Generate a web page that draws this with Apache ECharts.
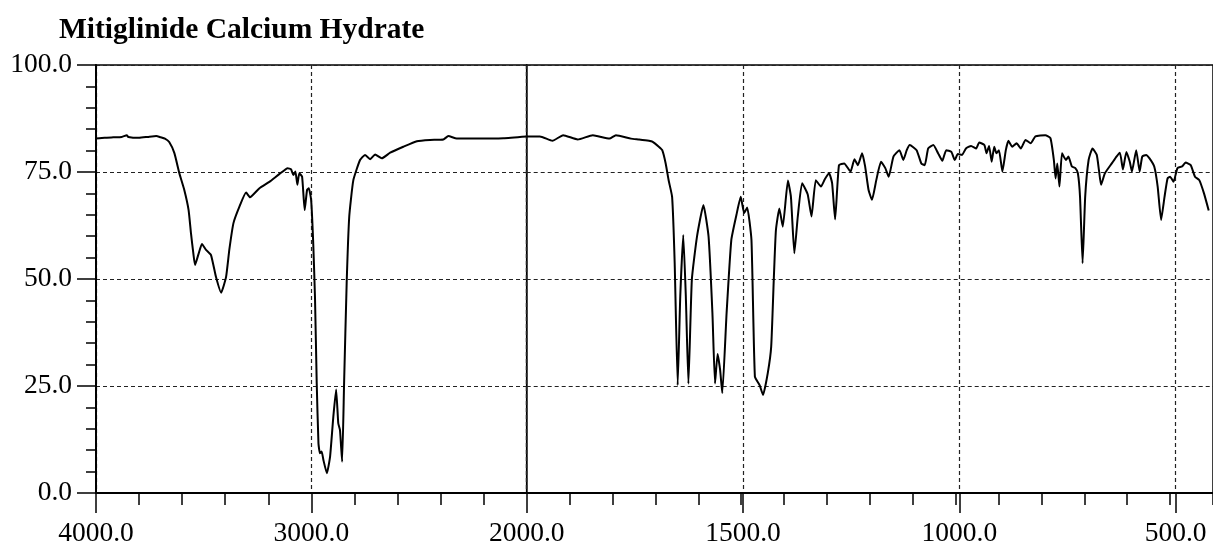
<!DOCTYPE html>
<html>
<head>
<meta charset="utf-8">
<script src="https://cdn.jsdelivr.net/npm/echarts@6/dist/echarts.min.js"></script>
<style>
  html, body { margin: 0; padding: 0; background: #fff; }
  #chart { width: 1213px; height: 548px; }
</style>
</head>
<body>
<div id="chart"></div>
<script>
const chartTitle = 'Mitiglinide Calcium Hydrate';

// wavenumber (cm-1), descending
const wavenumber = [
  4000, 3960, 3920, 3880, 3857, 3850, 3800, 3760, 3720, 3700, 3680, 3660, 3636, 3613, 3590, 3570,
  3559, 3548, 3540, 3523, 3508, 3489, 3466, 3443, 3419, 3396, 3381, 3362, 3334, 3303, 3285, 3241,
  3195, 3149, 3110, 3094, 3084, 3074, 3065, 3056, 3043, 3031, 3020, 3012, 3001, 2991, 2983, 2975,
  2967, 2960, 2952, 2944, 2928, 2913, 2898, 2885, 2875, 2867, 2857, 2848, 2836, 2824, 2805, 2774,
  2751, 2727, 2704, 2673, 2634, 2573, 2510, 2449, 2387, 2364, 2325, 2216, 2108, 2000,
  1969, 1940, 1915, 1881, 1846, 1807, 1792, 1757, 1738, 1715, 1707, 1692, 1684, 1676, 1669, 1661,
  1655, 1648, 1642, 1635, 1629, 1623, 1615, 1603, 1588, 1576, 1567, 1561, 1555, 1549, 1544, 1534,
  1523, 1511, 1501, 1493, 1486, 1476, 1468, 1457, 1449, 1438, 1430, 1424, 1419, 1411, 1403, 1391,
  1384, 1376, 1368, 1358, 1345, 1336, 1326, 1314, 1305, 1295, 1288, 1281, 1272, 1260, 1245, 1236,
  1228, 1218, 1211, 1203, 1195, 1185, 1174, 1164, 1156, 1145, 1131, 1122, 1114, 1107, 1091, 1080,
  1072, 1064, 1052, 1041, 1031, 1022, 1010, 1002, 995, 985, 976, 964, 952, 945, 933, 928,
  922, 916, 910, 905, 899, 891, 883, 877, 868, 858, 848, 837, 825, 814, 791, 779,
  771, 767, 763, 758, 752, 743, 737, 729, 721, 715, 710, 704, 698, 690, 681, 671,
  666, 661, 652, 636, 625, 617, 610, 602, 594, 589, 579, 571, 565, 556, 548, 537,
  529, 521, 513, 506, 500, 492, 483, 472, 464, 452, 442, 432, 421, 410
];

// transmittance (%)
const transmittance = [
  82.8, 83.0, 83.1, 83.2, 83.6, 83.2, 83.0, 83.2, 83.4, 83.1, 82.8, 82.0, 79.4, 74.7, 70.8, 66.1,
  60.7, 56.0, 53.3, 56.0, 58.2, 56.8, 55.6, 50.5, 46.8, 50.5, 56.8, 63.0, 66.9, 70.2, 69.1, 71.2,
  72.7, 74.5, 75.9, 75.6, 74.3, 75.1, 72.0, 74.7, 73.9, 66.1, 70.8, 71.2, 68.5, 58.0, 45.5, 25.6,
  11.6, 9.3, 9.7, 7.7, 4.6, 8.5, 17.8, 24.2, 16.3, 14.7, 7.3, 25.6, 49.0, 64.6, 73.1, 77.8,
  79.0, 78.0, 79.1, 78.2, 79.5, 80.9, 82.2, 82.5, 82.6, 83.4, 82.8, 82.8, 82.9, 83.3,
  83.3, 82.3, 83.6, 82.6, 83.6, 82.8, 83.6, 82.8, 82.6, 82.3, 82.1, 80.9, 80.1, 77.0, 73.0, 69.2,
  53.7, 25.2, 45.9, 60.3, 45.9, 25.5, 49.8, 59.9, 67.3, 59.9, 42.0, 25.6, 32.5, 28.7, 23.3, 42.0,
  59.1, 65.0, 69.2, 65.4, 66.7, 59.1, 27.2, 25.2, 22.9, 28.0, 34.2, 49.8, 61.4, 66.5, 62.2, 73.0,
  69.2, 56.0, 64.6, 72.4, 69.8, 64.6, 73.1, 71.6, 73.3, 74.7, 72.4, 63.9, 76.6, 77.0, 75.1, 78.0,
  76.6, 79.4, 76.3, 70.8, 68.5, 73.1, 77.4, 75.9, 73.9, 78.6, 80.1, 77.8, 80.1, 81.3, 80.1, 77.0,
  76.6, 80.5, 81.3, 79.4, 77.6, 80.1, 79.7, 77.8, 79.2, 79.0, 80.5, 81.1, 80.5, 81.9, 81.3, 79.4,
  81.1, 77.4, 80.9, 79.4, 80.1, 75.1, 80.1, 82.3, 80.9, 81.7, 80.5, 82.5, 81.7, 83.3, 83.6, 82.9,
  77.8, 73.5, 77.0, 71.6, 79.4, 77.8, 78.6, 76.3, 75.9, 74.7, 69.2, 53.7, 69.2, 77.8, 80.5, 79.0,
  75.5, 72.0, 74.7, 77.0, 78.6, 79.5, 75.6, 79.7, 77.4, 75.1, 80.1, 75.1, 78.6, 79.0, 78.2, 76.3,
  71.6, 63.8, 69.2, 73.5, 73.9, 72.7, 75.9, 76.3, 77.2, 76.6, 73.9, 73.1, 70.0, 66.0
];

const yTickValues = [0, 25, 50, 75, 100];
const xBreak = 2000;

const points = wavenumber.map((w, i) => [w, transmittance[i]]);
const leftData = points.filter(p => p[0] >= xBreak);
const rightData = points.filter(p => p[0] <= xBreak);

const FONT = '"Liberation Serif", "Times New Roman", serif';
const dashed = { color: '#222', width: 1.2, type: [4, 3] };
const axisLine = { show: true, lineStyle: { color: '#000', width: 2 } };

const chart = echarts.init(document.getElementById('chart'), null, { renderer: 'canvas' });

const option = {
  animation: false,
  backgroundColor: '#fff',
  title: {
    text: chartTitle,
    left: 59,
    top: 15,
    padding: 0,
    textStyle: { fontFamily: FONT, fontSize: 29.5, fontWeight: 'bold', color: '#000' }
  },
  grid: [
    { left: 96, top: 65, width: 430.7, height: 428, show: true, borderColor: '#000', borderWidth: 1.5, backgroundColor: 'transparent' },
    { left: 526.7, top: 65, width: 692.3, height: 428, show: true, borderColor: '#000', borderWidth: 1.5, backgroundColor: 'transparent' },
    { left: 526.7, top: 65, width: 648.95, height: 428, show: false }
  ],
  xAxis: [
    {
      gridIndex: 0, type: 'value', min: 2000, max: 4000, inverse: true, interval: 1000,
      axisLine: axisLine,
      axisTick: { show: true, length: 20, lineStyle: { color: '#000', width: 1.5 } },
      minorTick: { show: true, splitNumber: 5, length: 12, lineStyle: { color: '#000', width: 1.5 } },
      axisLabel: { show: true, margin: 27, fontFamily: FONT, fontSize: 27.5, color: '#000',
        formatter: v => v.toFixed(1), showMinLabel: true, showMaxLabel: true },
      splitLine: { show: true, lineStyle: dashed },
      minorSplitLine: { show: false }
    },
    {
      gridIndex: 1, type: 'value', min: 400, max: 2000, inverse: true, interval: 100,
      axisLine: axisLine,
      axisTick: { show: true, length: 12, lineStyle: { color: '#000', width: 1.5 } },
      axisLabel: { show: false },
      splitLine: { show: false }
    },
    {
      gridIndex: 2, type: 'value', min: 500, max: 2000, inverse: true, interval: 500,
      axisLine: { show: false },
      axisTick: { show: true, length: 20, lineStyle: { color: '#000', width: 1.5 } },
      axisLabel: { show: true, margin: 27, fontFamily: FONT, fontSize: 27.5, color: '#000',
        formatter: v => (v === xBreak ? '' : v.toFixed(1)), showMinLabel: true, showMaxLabel: true },
      splitLine: { show: true, lineStyle: dashed }
    }
  ],
  yAxis: [
    {
      gridIndex: 0, type: 'value', min: 0, max: 100, interval: 25,
      axisLine: axisLine,
      axisTick: { show: true, length: 19, lineStyle: { color: '#000', width: 1.5 } },
      minorTick: { show: true, splitNumber: 5, length: 10, lineStyle: { color: '#000', width: 1.5 } },
      axisLabel: { show: true, margin: 24, fontFamily: FONT, fontSize: 27.5, color: '#000',
        formatter: v => (yTickValues.includes(v) ? v.toFixed(1) : '') },
      splitLine: { show: true, lineStyle: dashed }
    },
    {
      gridIndex: 1, type: 'value', min: 0, max: 100, interval: 25,
      axisLine: { show: false }, axisTick: { show: false }, axisLabel: { show: false },
      splitLine: { show: true, lineStyle: dashed }
    },
    {
      gridIndex: 2, type: 'value', min: 0, max: 100, interval: 25,
      axisLine: { show: false }, axisTick: { show: false }, axisLabel: { show: false },
      splitLine: { show: false }
    }
  ],
  series: [
    {
      type: 'line', xAxisIndex: 0, yAxisIndex: 0, data: leftData,
      showSymbol: false, symbol: 'none', silent: true, smooth: 0.15,
      lineStyle: { color: '#000', width: 2 }, z: 5
    },
    {
      type: 'line', xAxisIndex: 1, yAxisIndex: 1, data: rightData,
      showSymbol: false, symbol: 'none', silent: true, smooth: 0.15,
      lineStyle: { color: '#000', width: 2 }, z: 5
    }
  ]
};

chart.setOption(option);
</script>
</body>
</html>
